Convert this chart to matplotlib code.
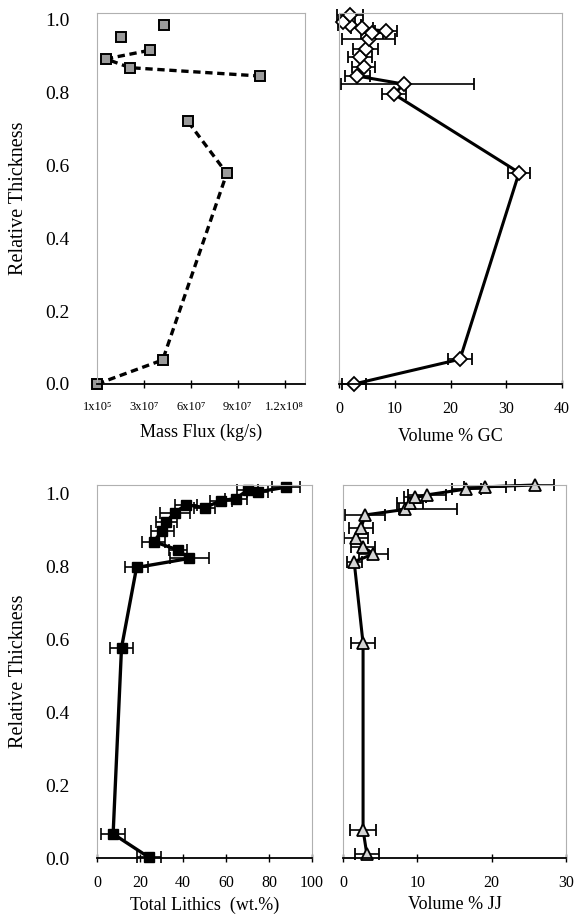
import numpy as np
import matplotlib
matplotlib.use("Agg")
import matplotlib.pyplot as plt

plt.rcParams['font.family'] = ['Liberation Serif', 'DejaVu Serif']

# --- data ---
# top left: mass flux, segments split where the dashed line breaks
flux = [1e5, 4.2e7, 8.3e7, 5.8e7, 1.045e8, 2.1e7, 5.8e6, 3.4e7, 1.55e7, 4.3e7]
flux_thick = [0.0, 0.066, 0.578, 0.721, 0.845, 0.868, 0.892, 0.916, 0.953, 0.984]
flux_segment = [0, 0, 0, 0, 1, 1, 1, 1, 2, 3]
flux_ticks = [1e5, 3e7, 6e7, 9e7, 1.2e8]
flux_ticklabels = ["1x10\u2075", "3x10\u2077", "6x10\u2077", "9x10\u2077", "1.2x10\u2078"]

# top right: volume % GC
gc = [2.7, 21.7, 32.3, 9.9, 11.6, 3.3, 4.4, 3.8, 4.8, 5.3, 5.9, 8.4, 4.1, 1.9, 0.8, 2.0]
gc_thick = [0.0, 0.068, 0.58, 0.795, 0.823, 0.845, 0.870, 0.896, 0.918, 0.946,
            0.962, 0.968, 0.976, 0.985, 0.994, 1.012]
gc_err_lo = [2.2, 2.2, 2.0, 2.2, 11.3, 2.2, 2.1, 2.2, 2.2, 4.8, 2.0, 2.0, 2.0, 2.0, 0.8, 2.3]
gc_err_hi = [2.2, 2.2, 2.0, 2.2, 12.6, 2.2, 2.1, 2.2, 2.2, 4.8, 2.0, 2.0, 2.0, 2.0, 2.0, 2.3]

# bottom left: total lithics
lith = [24.1, 7.5, 11.4, 18.4, 43.0, 37.6, 26.4, 30.4, 32.3, 36.1, 41.5, 50.0,
        57.7, 64.7, 70.0, 74.7, 87.8]
lith_thick = [0.002, 0.066, 0.576, 0.796, 0.821, 0.844, 0.867, 0.897, 0.921, 0.946,
              0.968, 0.960, 0.979, 0.985, 1.008, 1.003, 1.016]
lith_err = [5.6, 5.6, 5.4, 5.4, 8.9, 4.2, 5.4, 5.4, 5.0, 7.0, 5.0, 5.0, 5.0, 5.0,
            5.0, 5.0, 6.5]

# bottom right: volume % JJ
jj = [3.2, 2.7, 2.7, 1.5, 4.1, 2.7, 1.7, 2.4, 3.0, 8.3, 9.0, 9.7, 11.3, 16.6, 19.1, 25.8]
jj_thick = [0.011, 0.077, 0.588, 0.812, 0.833, 0.853, 0.876, 0.903, 0.94, 0.955,
            0.973, 0.988, 0.995, 1.011, 1.017, 1.022]
jj_err_lo = [1.6, 1.7, 1.6, 1.0, 1.9, 1.6, 1.6, 1.6, 2.7, 0.7, 1.7, 1.5, 2.6, 2.0, 2.8, 2.6]
jj_err_hi = [1.6, 1.7, 1.6, 1.0, 1.9, 1.6, 1.6, 1.6, 2.7, 7.0, 1.7, 1.5, 2.6, 2.0, 2.8, 2.6]

fig = plt.figure(figsize=(5.83, 9.21), dpi=100)

W, H = 583, 921
def px_axes(x0, x1, ytop, ybot):
    return fig.add_axes([x0 / W, 1 - ybot / H, (x1 - x0) / W, (ybot - ytop) / H])

ax_tl = px_axes(97, 305, 13, 384)
ax_tr = px_axes(339, 562, 13, 384)
ax_bl = px_axes(97, 312, 485, 858)
ax_br = px_axes(343, 566, 485, 858)

yticks = [0.0, 0.2, 0.4, 0.6, 0.8, 1.0]

def style(ax, left_labels):
    for side in ['top', 'right', 'left']:
        ax.spines[side].set_color('#b0b0b0')
        ax.spines[side].set_linewidth(0.8)
    ax.spines['bottom'].set_color('black')
    ax.spines['bottom'].set_linewidth(1.3)
    ax.set_yticks(yticks)
    ax.tick_params(axis='y', length=0, pad=20, labelsize=14)
    ax.tick_params(axis='x', direction='inout', length=6, width=1, pad=9, labelsize=11.5)
    if left_labels:
        ax.set_yticklabels([f"{v:.1f}" for v in yticks])
        ax.set_ylabel("Relative Thickness", fontsize=14.5, labelpad=12)
    else:
        ax.set_yticklabels([])

# top left
style(ax_tl, True)
fx = np.array(flux)
fy = np.array(flux_thick)
seg = np.array(flux_segment)
for s in np.unique(seg):
    m = seg == s
    ax_tl.plot(fx[m], fy[m], linestyle=(0, (2.2, 1.4)), color='black', lw=2.4,
               marker='s', ms=7.5, mfc='#9a9a9a', mec='black', mew=1.4, clip_on=False)
ax_tl.set_xlim(0, 1.33e8)
ax_tl.set_ylim(0, 1.018)
ax_tl.set_xticks(flux_ticks)
ax_tl.set_xticklabels(flux_ticklabels, fontsize=9)
ax_tl.set_xlabel("Mass Flux (kg/s)", fontsize=13, labelpad=8)

# top right
style(ax_tr, False)
ax_tr.errorbar(gc, gc_thick, xerr=[gc_err_lo, gc_err_hi], color='black', lw=2.2,
               marker='D', ms=7, mfc='white', mec='black', mew=1.3,
               ecolor='black', elinewidth=1.2, capsize=4, capthick=1.2, clip_on=False)
ax_tr.set_xlim(0, 40)
ax_tr.set_ylim(0, 1.018)
ax_tr.set_xticks([0, 10, 20, 30, 40])
ax_tr.set_xlabel("Volume % GC", fontsize=13, labelpad=8)

# bottom left
style(ax_bl, True)
ax_bl.errorbar(lith, lith_thick, xerr=lith_err, color='black', lw=2.4,
               marker='s', ms=7.5, mfc='black', mec='black',
               ecolor='black', elinewidth=1.2, capsize=4, capthick=1.2, clip_on=False)
ax_bl.set_xlim(0, 100)
ax_bl.set_ylim(0, 1.022)
ax_bl.set_xticks([0, 20, 40, 60, 80, 100])
ax_bl.set_xlabel("Total Lithics  (wt.%)", fontsize=13, labelpad=4)

# bottom right
style(ax_br, False)
ax_br.errorbar(jj, jj_thick, xerr=[jj_err_lo, jj_err_hi], color='black', lw=2.2,
               marker='^', ms=9, mfc='#d4d4d4', mec='black', mew=1.3,
               ecolor='black', elinewidth=1.2, capsize=4, capthick=1.2, clip_on=False)
ax_br.set_xlim(0, 30)
ax_br.set_ylim(0, 1.022)
ax_br.set_xticks([0, 10, 20, 30])
ax_br.set_xlabel("Volume % JJ", fontsize=13, labelpad=4)

fig.savefig("out.png", dpi=100)
